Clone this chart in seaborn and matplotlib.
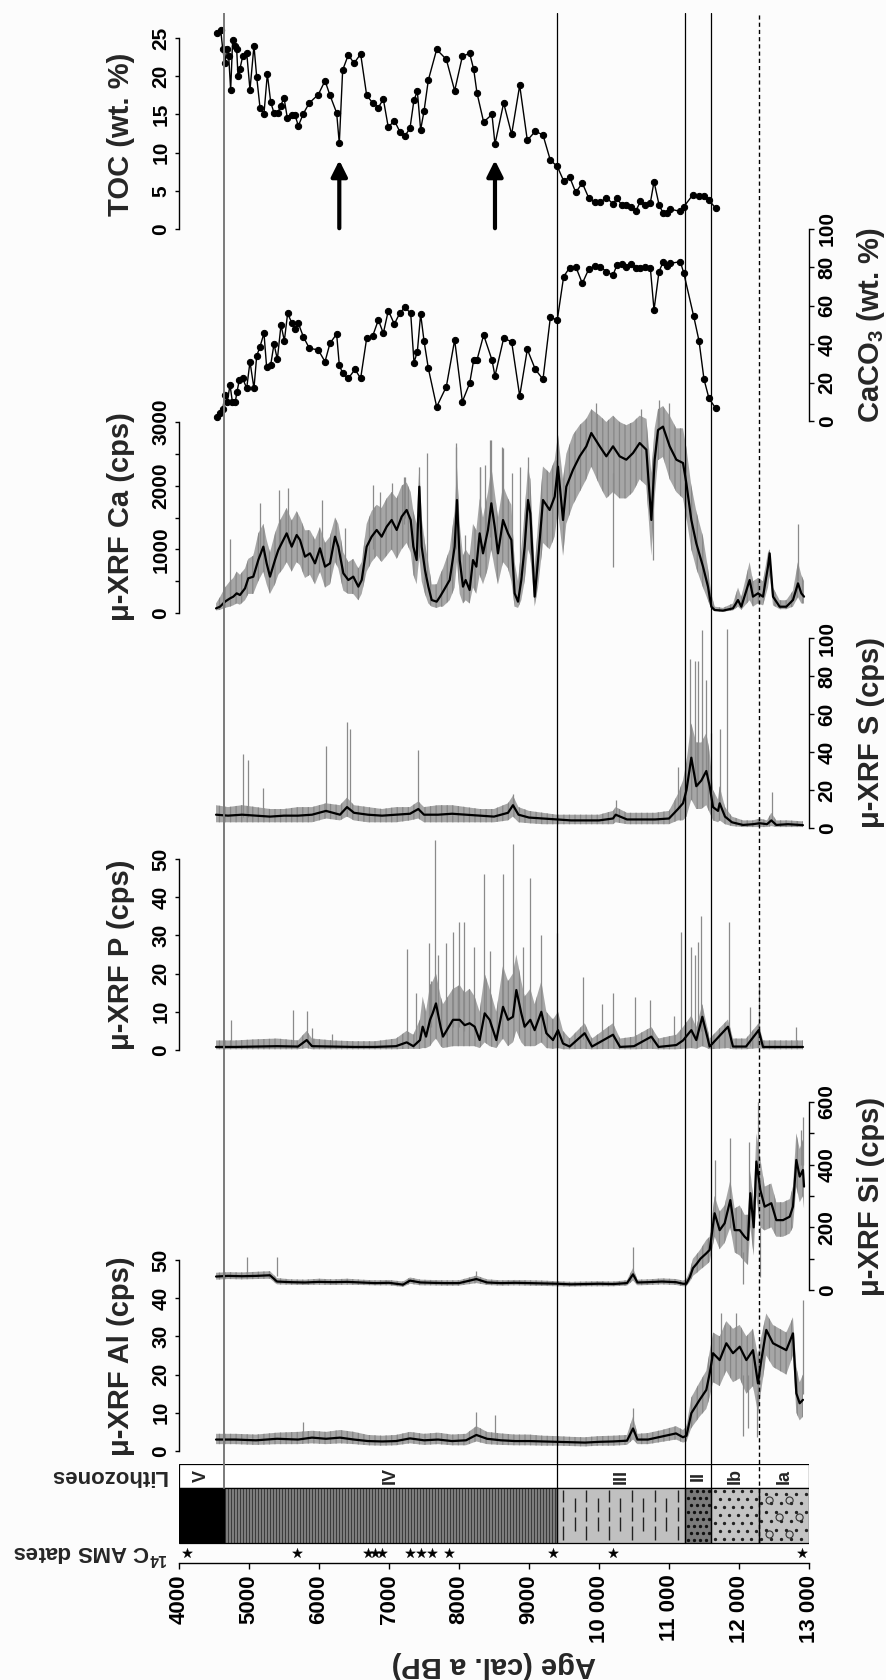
import numpy as np
import pandas as pd
import matplotlib
matplotlib.use("Agg")
import matplotlib.pyplot as plt
import seaborn as sns
from matplotlib.patches import Rectangle

# ---------------- data ----------------
TOC_AGE = [4548,4595,4624,4657,4681,4710,4738,4767,4800,4824,4843,4871,4910,4967,5014,5071,5110,5157,5214,5262,
           5310,5357,5410,5452,5500,5548,5610,5657,5705,5776,5862,5990,6086,6157,6252,6290,6338,6419,6500,6595,
           6681,6767,6848,6919,6990,7076,7157,7229,7300,7357,7405,7452,7500,7562,7681,7819,7938,8048,8152,8210,
           8257,8352,8471,8514,8638,8752,8867,8976,9090,9200,9305,9404,9495,9581,9667,9762,9852,9938,10019,10105,
           10200,10257,10329,10390,10462,10524,10590,10652,10733,10786,10857,10914,10971,11019,11162,11210,11343,11429,11495,11571,
           11667]
TOC_VAL = [25.6,26.1,23.6,21.7,23.6,22.6,18.2,24.8,23.9,23.5,20.0,21.0,22.6,23.1,18.2,24.0,19.9,15.9,15.1,20.3,
           16.6,15.2,15.2,16.1,17.2,14.5,14.9,14.9,13.5,15.1,16.5,17.6,19.4,17.5,15.2,11.2,20.8,22.8,21.7,22.9,
           17.5,16.5,15.9,17.0,13.3,14.2,12.7,12.2,13.2,16.9,18.0,13.0,15.4,19.5,23.5,22.2,18.1,22.6,23.0,20.9,
           17.8,14.0,15.0,11.1,16.5,12.4,18.8,11.6,12.8,12.3,9.0,8.2,6.3,6.8,4.8,6.0,4.1,3.5,3.5,4.1,
           3.3,4.0,3.1,3.2,2.9,2.3,3.6,3.2,3.4,6.2,3.2,2.1,2.1,2.6,2.3,2.9,4.5,4.3,4.3,3.8,
           2.7]

CACO3_AGE = [4548,4586,4624,4657,4690,4729,4762,4805,4829,4862,4910,4967,5014,5071,5110,5157,5214,5252,5310,5357,
             5405,5457,5505,5552,5610,5657,5705,5776,5862,5990,6086,6157,6252,6290,6338,6419,6514,6595,6681,6767,
             6848,6919,6990,7076,7157,7229,7310,7357,7405,7452,7500,7562,7681,7819,7938,8048,8152,8210,8257,8352,
             8471,8514,8638,8752,8867,8976,9090,9200,9305,9404,9495,9581,9667,9762,9852,9938,10019,10105,10200,10257,
             10329,10390,10462,10524,10590,10652,10733,10786,10857,10914,10971,11019,11162,11210,11352,11429,11500,11571,11667]
CACO3_VAL = [2,4.0,6.1,13.5,10.1,18.8,10.1,10.1,15.3,21.4,22.2,17.0,30.9,17.0,33.9,38.7,45.7,28.0,29.2,40.1,
             32.1,50.0,41.8,56.1,51.2,47.8,50.9,43.9,37.9,37.0,30.9,40.5,45.3,29.2,24.8,22.2,26.9,22.2,43.1,44.3,
             52.6,45.7,57.5,50.5,56.4,59.2,56.1,30.4,36.1,55.7,41.8,27.4,7.4,17.9,42.2,10.1,19.6,31.8,31.8,44.8,
             31.8,23.4,43.1,41.3,13.0,37.3,26.9,21.7,54.0,52.6,75.2,79.9,80.4,71.7,79.0,80.7,80.4,77.8,76.0,81.3,
             81.6,80.4,81.6,79.9,79.5,80.4,79.9,57.8,77.8,82.6,80.7,82.1,83.0,77.2,54.7,41.7,21.7,11.8,6.6]

CA_AGE = [4529,4586,4657,4729,4776,4824,4871,4943,4990,5062,5133,5205,5252,5300,5371,5419,5490,5538,5610,5681,
          5729,5800,5871,5943,6014,6086,6157,6229,6276,6348,6419,6490,6562,6610,6681,6752,6824,6895,6967,7038,
          7110,7181,7252,7310,7348,7395,7433,7467,7514,7562,7610,7681,7729,7771,7867,7938,7971,8010,8057,8095,
          8152,8200,8248,8295,8343,8414,8462,8510,8557,8629,8700,8748,8795,8843,8890,8938,8986,9019,9081,9129,
          9200,9295,9367,9414,9486,9533,9629,9724,9819,9890,10010,10105,10200,10295,10390,10486,10581,10676,10748,10795,
          10843,10914,11010,11105,11200,11248,11319,11390,11486,11557,11605,11652,11771,11914,11986,12033,12152,12200,12271,12343,
          12414,12438,12486,12581,12676,12771,12843,12890,12929]
CA_MEAN = [73,99,178,230,257,309,283,387,545,571,832,1042,780,571,832,990,1147,1251,1042,1225,
           1147,885,937,780,1016,728,780,1199,1042,623,518,571,414,518,1042,1199,1304,1199,1356,1461,
           1304,1513,1618,1461,1042,832,1984,1042,675,414,204,178,257,335,518,1042,1775,832,414,518,
           361,832,728,1251,937,1304,1723,1356,937,1461,1251,1147,309,178,518,1042,1775,1565,257,832,
           1775,1618,1827,2298,1461,1984,2251,2461,2618,2827,2618,2461,2618,2461,2408,2513,2670,2565,1461,2403,
           2874,2927,2618,2408,2356,2037,1461,1094,728,414,99,47,37,73,204,99,518,257,309,257,
           728,937,257,99,99,204,466,309,257]
CA_LO = [40,50,80,100,120,150,130,200,300,300,500,650,450,300,450,600,700,800,650,800,
         750,550,600,450,650,400,450,800,700,350,300,300,200,300,650,800,900,800,900,1000,
         850,1000,1100,950,600,450,900,500,300,150,100,80,100,100,200,400,800,300,150,200,
         150,400,300,600,450,700,1000,700,450,800,700,500,100,80,200,500,1000,900,100,400,
         1100,1000,1200,1600,900,1400,1700,1900,2100,2300,2000,1800,1900,1800,1800,1900,2100,2000,900,1800,
         2400,2450,2100,1900,1800,1500,1000,700,400,200,60,30,20,40,100,50,200,100,150,120,
         400,600,120,60,60,100,250,150,150]
CA_HI = [150,250,400,500,550,650,600,700,850,900,1250,1400,1150,950,1250,1400,1550,1650,1450,1600,
         1500,1300,1300,1150,1350,1100,1200,1500,1400,950,800,850,700,800,1400,1600,1700,1650,1800,1900,
         1800,2000,2050,1900,1600,1400,2300,1500,1100,800,450,450,600,700,1000,1600,2300,1400,900,1000,
         900,1400,1300,1800,1500,1900,2300,1900,1500,2000,1800,1700,800,500,1000,1600,2300,2100,700,1400,
         2300,2200,2400,2800,2100,2500,2800,2950,3050,3200,3100,3000,3100,3000,2950,3000,3100,3050,2200,2900,
         3200,3250,3100,2900,2900,2600,2000,1600,1200,700,300,100,80,150,400,250,800,500,550,500,
         950,1000,400,200,200,350,800,600,500]
CA_SPK_AGE = [4729,5157,5433,5562,6038,6371,6776,6871,7038,7214,7229,7433,7548,7957,7962,8086,8300,8305,8371,8443,
              8462,8614,8633,8757,8871,8986,9390,9950,10200,10600,10770,10850,11000,12843]
CA_SPK_BASE = [300,900,1000,1100,900,600,1000,1200,1400,1400,1500,1500,600,1000,1500,500,900,1300,900,1200,
               1700,1100,1500,1000,600,1700,2100,2800,2200,2700,2000,2900,2700,500]
CA_SPK_TOP = [1170,1720,1930,1960,1775,1335,2010,1905,2040,2136,2140,2300,2510,2670,2610,1225,2293,2300,2324,2717,
              2715,2607,2585,2199,2293,2455,2400,3300,730,3200,830,3350,3300,1400]

S_AGE = [4529,4700,4900,5100,5300,5500,5700,5900,6100,6300,6400,6500,6700,6900,7100,7300,7419,7500,7700,7900,
         8100,8300,8500,8700,8771,8850,9000,9200,9400,9600,9800,10000,10200,10238,10400,10600,10800,11000,11129,11200,
         11250,11319,11390,11462,11533,11581,11629,11700,11724,11800,11900,12057,12200,12295,12400,12462,12533,12700,12914]
S_MEAN = [7,6.5,7,6.5,6,6.5,6.5,7,9,7,11,8,7,6.5,7,7.5,10,7,7,7.5,
          7,6.5,6,8,12,7,5.5,5,4.5,4,4,4,5,7,4.5,4.5,4.5,5,10,13,
          20,37,22,25,30,22,11,9,13,6,3,1.6,2,2.5,2,4,1.6,2,1.5]
S_LO = [3,3,3,3,3,3,3,3,5,4,6,4,3,3,3,4,5,3,3,3,
        3,3,3,4,6,3,2.5,2,2,2,2,2,2,3,2,2,2,2,4,4,
        6,15,10,10,12,8,4,3,4,2,1,0.5,0.5,0.5,0.5,1,0.5,0.5,0.5]
S_HI = [12,11,12,11,10,10,11,11,13,12,16,12,11,10,11,11,14,11,12,12,
        11,10,10,13,17,11,9,8,7,7,7,7,9,11,8,8,8,9,18,25,
        35,55,45,45,50,40,20,15,22,11,6,4,4,5,4,8,4,4,3.5]
S_SPK_AGE = [4910,4990,5195,6100,6395,6443,7419,8771,10238,11129,11295,11376,11414,11476,11533,11605,11724,11833,12476]
S_SPK_BASE = [6,6,6,8,10,10,10,12,6,10,30,22,22,25,30,20,12,5,4]
S_SPK_TOP = [39,36,21,43,56,52,41,18,15,32,89,88,88,104,78,50,52,105,19]

P_AGE = [4529,4800,5100,5400,5700,5824,5900,6200,6500,6800,7100,7252,7348,7443,7481,7529,7586,7624,7671,7705,
         7738,7771,7914,8010,8081,8152,8224,8295,8367,8438,8533,8629,8700,8771,8819,8890,8938,9019,9081,9176,
         9248,9343,9414,9486,9581,9795,9900,10200,10300,10500,10748,10850,11105,11200,11319,11390,11476,11581,11843,11914,
         12100,12281,12343,12600,12914]
P_MEAN = [0.8,0.8,0.9,1.0,0.9,2.6,1.0,0.9,0.8,0.8,1.0,2.0,1.0,2.6,6.1,3.5,7.9,9.6,12.2,9.0,
          6.0,3.5,7.9,7.9,6.5,7.0,6.1,2.6,9.6,7.9,2.6,11.3,7.9,8.7,15.7,9.6,6.1,7.9,5.2,10.0,
          4.4,2.6,5.2,1.7,0.9,4.4,0.9,4.0,0.8,1.0,3.5,0.8,1.3,2.5,5.2,2.6,8.7,0.9,6.1,0.9,
          0.9,5.2,0.8,0.8,0.8]
P_LO = [0.2,0.2,0.2,0.2,0.2,0.5,0.2,0.2,0.2,0.2,0.2,0.3,0.3,0.3,0.5,0.5,1,2,3,2,
        1,0.5,1,1,1,1,1,0.5,2,1,0.5,3,1,2,5,2,1,1,1,2,
        0.5,0.3,0.5,0.2,0.2,0.3,0.2,0.3,0.2,0.2,0.3,0.2,0.2,0.3,0.5,0.3,1,0.2,0.5,0.2,
        0.2,0.5,0.2,0.2,0.2]
P_HI = [2.5,2.5,2.8,3,2.5,5,3,2.5,2.3,2.3,3,5,4,8,14,10,17,18,20,17,
        14,12,16,17,15,16,14,10,20,16,10,22,18,20,25,18,14,16,12,18,
        10,8,10,5,3,7,3,7,3,3.5,6,3,4,6,9,6,12,3,8,3,
        3,7,2.5,2.5,2.5]
P_SPK_AGE = [4748,5624,5824,5895,6181,7262,7386,7571,7600,7657,7700,7819,7914,8000,8067,8210,8352,8438,8629,8771,
             8914,9019,9176,9405,9771,10043,10200,10510,10733,11067,11167,11310,11367,11414,11462,11862,12157,12281,12819]
P_SPK_BASE = [1,1,2,1,1,2,2,6,6,10,8,4,6,6,5,5,8,6,10,8,
              6,6,8,4,3,1,3,1,2,1,2,4,3,3,5,5,1,4,1]
P_SPK_TOP = [7.9,10.6,10.2,5.7,4.2,26.4,15,28,18,55,25,28,31,33.6,33.6,27,46,26,46,54,
             27,45,30,30.5,19,12,15,14,13,9,31,27,25,28.4,35,33.6,11.3,17.5,6]

SI_AGE = [4529,4700,4900,5100,5300,5400,5600,5800,6000,6200,6400,6600,6800,7000,7200,7300,7450,7600,7800,8000,
          8248,8400,8600,8800,9000,9200,9400,9600,9800,10000,10200,10400,10486,10550,10700,10900,11100,11200,11248,11295,
          11343,11400,11450,11533,11581,11652,11724,11795,11876,11938,12010,12081,12129,12162,12210,12248,12305,12367,12462,12533,
          12629,12724,12771,12819,12867,12914,12929]
SI_MEAN = [43,45,44,45,47,27,25,24,26,25,26,24,22,23,17,30,24,23,22,22,
           35,24,22,23,22,21,20,18,19,20,19,22,50,24,25,27,25,20,20,40,
           70,85,100,117,128,245,191,213,287,191,191,170,160,309,200,410,319,266,277,223,
           223,234,266,415,362,383,330]
SI_LO = [33,35,34,35,36,18,17,16,17,16,17,16,15,15,10,20,15,15,14,14,
         22,16,14,15,14,13,12,11,12,12,12,14,30,15,16,18,16,12,12,25,
         45,55,65,80,90,170,130,150,200,120,110,90,80,200,110,300,200,190,200,170,
         170,180,200,330,280,300,260]
SI_HI = [55,57,56,58,60,38,34,33,36,34,36,33,31,32,27,40,33,32,31,31,
         46,34,31,32,31,30,28,26,27,28,27,31,70,33,34,37,35,30,35,60,
         100,115,130,160,170,300,250,270,350,260,270,240,240,380,280,500,420,330,340,280,
         280,290,330,500,450,480,420]
SI_SPK_AGE = [4967,5395,8248,10486,11652,11876,12050,12143,12271,12300,12881,12914]
SI_SPK_BASE = [50,45,30,40,250,280,120,200,350,200,400,400]
SI_SPK_TOP = [105,105,60,138,415,484,20,473,600,40,510,553]

AL_AGE = [4529,4800,5100,5400,5700,5900,6100,6300,6500,6700,6900,7100,7300,7500,7700,7900,8100,8248,8400,8600,
          8800,9000,9200,9400,9600,9800,10000,10200,10400,10486,10550,10700,10900,11100,11200,11250,11319,11438,11533,11581,
          11629,11724,11819,11914,12010,12105,12200,12271,12319,12390,12486,12581,12676,12771,12819,12867,12914]
AL_MEAN = [3.0,3.0,2.8,3.2,3.0,3.5,3.2,3.5,3.0,2.6,2.5,2.6,3.3,2.8,3.0,2.6,2.8,4.2,3.2,2.8,
           2.6,2.6,2.5,2.4,2.3,2.2,2.4,2.5,2.7,5.9,3.0,3.0,3.8,4.6,3.6,4.0,9.9,13.4,16,20.3,
           25.6,23.8,28.2,25.6,27.3,23.8,26.4,17.7,23.8,31.7,28.2,27.3,26.4,30.8,15.1,12.5,13.4]
AL_LO = [1.8,1.8,1.6,1.8,1.8,2.0,1.8,2.0,1.8,1.5,1.4,1.5,2.0,1.6,1.8,1.5,1.5,2.5,1.8,1.6,
         1.5,1.5,1.4,1.4,1.3,1.2,1.4,1.4,1.6,3.0,1.8,1.8,2.4,3.0,2.2,2.5,6,9,11,14,
         18,17,21,18,19,15,17,10,16,25,22,21,20,25,10,8,9]
AL_HI = [4.5,4.5,4.3,4.8,5.0,5.3,5.0,5.5,5.0,4.2,4.0,4.2,5.0,4.5,4.8,4.3,4.5,6.5,5.0,4.6,
         4.3,4.3,4.0,3.9,3.7,3.6,3.9,4.0,4.2,9.0,4.5,4.7,5.5,6.5,5.5,6.5,14,18,21,26,
         31,30,34,32,33,30,32,25,30,36,33,32,31,35,22,18,20]
AL_SPK_AGE = [5776,8248,8510,10486,11748,11962,12057,12129,12250,12914]
AL_SPK_BASE = [3,4,3,5,25,25,20,20,15,15]
AL_SPK_TOP = [7.7,10.3,9.5,11.2,36,36,4,6,3.7,39.5]

AMS_AGES = [4110,5681,6705,6800,6895,7300,7452,7610,7850,9343,10200,12900]
ZONE_EDGES = [4000,4640,9400,11230,11600,12280,13000]
ZONE_NAMES = ["V","IV","III","II","Ib","Ia"]
ARROW_AGES = [6290,8514]
AGE_TICKS = [4000,5000,6000,7000,8000,9000,10000,11000,12000,13000]
AGE_TICK_LABELS = ["4000","5000","6000","7000","8000","9000","10 000","11 000","12 000","13 000"]

# ---------------- style ----------------
sns.set_style("white")
plt.rcParams['font.family'] = ['Liberation Sans', 'DejaVu Sans']
plt.rcParams['font.weight'] = 'bold'
plt.rcParams['mathtext.fontset'] = 'custom'
plt.rcParams['mathtext.rm'] = 'Liberation Sans:bold'
plt.rcParams['mathtext.bf'] = 'Liberation Sans:bold'
plt.rcParams['mathtext.default'] = 'bf'
plt.rcParams['hatch.linewidth'] = 0.9

W, H = 886, 1680
fig = plt.figure(figsize=(W / 100, H / 100), dpi=100)
BG = '#fcfcfc'
fig.patch.set_facecolor(BG)
X0, X1 = 179, 809
AMIN, AMAX = 4000, 13000
PT = 0.72  # points per pixel at 100 dpi
YR_PER_PX = (AMAX - AMIN) / (X1 - X0)


def fx(x):
    return x / W


def fy(y):
    return 1 - y / H


def panel(y_top, y_zero, vmax, side, ticks, labels):
    ax = fig.add_axes([fx(X0), fy(y_zero), (X1 - X0) / W, (y_zero - y_top) / H])
    ax.set_xlim(AMIN, AMAX)
    ax.set_ylim(0, vmax)
    ax.patch.set_alpha(0)
    for s in ['top', 'bottom', 'left', 'right']:
        ax.spines[s].set_visible(s == side)
    ax.spines[side].set_linewidth(1.0)
    ax.spines[side].set_color('black')
    ax.xaxis.set_visible(False)
    if side == 'right':
        ax.yaxis.tick_right()
    else:
        ax.yaxis.tick_left()
    ax.set_yticks(ticks)
    ax.set_yticklabels(labels)
    ax.tick_params(axis='y', direction='out', length=4.5 * PT, width=1.0, pad=3,
                   labelsize=15, colors='black')
    for t in ax.get_yticklabels():
        t.set_rotation(90)
        t.set_va('center')
        t.set_fontweight('bold')
    ax.grid(False)
    return ax


def xrf(ax, age, mean, lo, hi, sa, sb, st):
    # raw-signal envelope: medium-gray fill with fine vertical texture
    ax.fill_between(age, lo, hi, facecolor='#a6a6a6', edgecolor='#868686', hatch='|||',
                    lw=0, clip_on=False, zorder=1)
    ax.vlines(sa, sb, st, color='#8a8a8a', lw=0.9, clip_on=False, zorder=1.5)
    sns.lineplot(x=age, y=mean, ax=ax, color='black', lw=1.6, estimator=None,
                 sort=False, clip_on=False, zorder=3)
    ax.set_xlabel('')
    ax.set_ylabel('')
    ax.set_xlim(AMIN, AMAX)


def dotted_series(ax, age, val):
    sns.lineplot(x=age, y=val, ax=ax, color='black', lw=1.0, marker='o', markersize=4.5,
                 markeredgecolor='black', markerfacecolor='black', estimator=None,
                 sort=False, clip_on=False, zorder=3)
    ax.set_xlabel('')
    ax.set_ylabel('')
    ax.set_xlim(AMIN, AMAX)


# TOC
ax_toc = panel(38, 229, 25, 'left', [0, 5, 10, 15, 20, 25], ['0', '5', '10', '15', '20', '25'])
dotted_series(ax_toc, TOC_AGE, TOC_VAL)
for a in ARROW_AGES:
    ax_toc.annotate('', xy=(a, 9.0), xytext=(a, 0.1),
                    arrowprops=dict(arrowstyle='-|>', color='black', lw=3, mutation_scale=24,
                                    shrinkA=0, shrinkB=0))

# CaCO3
ax_cc = panel(229, 421, 100, 'right', [0, 20, 40, 60, 80, 100], ['0', '20', '40', '60', '80', '100'])
dotted_series(ax_cc, CACO3_AGE, CACO3_VAL)

# Ca
ax_ca = panel(422, 613, 3000, 'left', [0, 500, 1000, 1500, 2000, 2500, 3000],
              ['0', '', '1000', '', '2000', '', '3000'])
xrf(ax_ca, CA_AGE, CA_MEAN, CA_LO, CA_HI, CA_SPK_AGE, CA_SPK_BASE, CA_SPK_TOP)

# S
ax_s = panel(638, 828, 100, 'right', [0, 20, 40, 60, 80, 100], ['0', '20', '40', '60', '80', '100'])
xrf(ax_s, S_AGE, S_MEAN, S_LO, S_HI, S_SPK_AGE, S_SPK_BASE, S_SPK_TOP)

# P
ax_p = panel(859, 1050, 50, 'left', [0, 10, 20, 30, 40, 50], ['0', '10', '20', '30', '40', '50'])
xrf(ax_p, P_AGE, P_MEAN, P_LO, P_HI, P_SPK_AGE, P_SPK_BASE, P_SPK_TOP)

# Si
ax_si = panel(1102, 1290, 600, 'right', [0, 100, 200, 300, 400, 500, 600],
              ['0', '', '200', '', '400', '', '600'])
xrf(ax_si, SI_AGE, SI_MEAN, SI_LO, SI_HI, SI_SPK_AGE, SI_SPK_BASE, SI_SPK_TOP)

# Al
ax_al = panel(1260, 1451, 50, 'left', [0, 10, 20, 30, 40, 50], ['0', '10', '20', '30', '40', '50'])
xrf(ax_al, AL_AGE, AL_MEAN, AL_LO, AL_HI, AL_SPK_AGE, AL_SPK_BASE, AL_SPK_TOP)

# ---------------- lithozones + age axis ----------------
Y_AX, Y_TOP = 1563, 1464
axl = fig.add_axes([fx(X0), fy(Y_AX), (X1 - X0) / W, (Y_AX - Y_TOP) / H])
axl.set_xlim(AMIN, AMAX)
axl.set_ylim(0, Y_AX - Y_TOP)
axl.patch.set_alpha(0)
for s in ['top', 'left', 'right']:
    axl.spines[s].set_visible(False)
axl.spines['bottom'].set_linewidth(1.0)
axl.spines['bottom'].set_color('black')
axl.set_yticks([])
axl.set_xticks(AGE_TICKS)
axl.set_xticklabels(AGE_TICK_LABELS)
axl.tick_params(axis='x', direction='out', length=6 * PT, width=1.0, pad=4, labelsize=16,
                colors='black', bottom=True)
for t in axl.get_xticklabels():
    t.set_rotation(90)
    t.set_va('top')
    t.set_ha('center')
    t.set_fontweight('bold')

PAT_B, PAT_T, LAB_T = Y_AX - 1543, Y_AX - 1488, Y_AX - 1464   # 20, 75, 99
faces = ['#000000', '#8e8e8e', '#c0c0c0', '#7b7b7b', '#c4c4c4', '#c4c4c4']
for i in range(6):
    a0, a1 = ZONE_EDGES[i], ZONE_EDGES[i + 1]
    axl.add_patch(Rectangle((a0, PAT_B), a1 - a0, PAT_T - PAT_B, facecolor=faces[i],
                            edgecolor='none', lw=0, zorder=1))
    axl.add_patch(Rectangle((a0, PAT_B), a1 - a0, PAT_T - PAT_B, facecolor='none',
                            edgecolor='black', lw=0.9, zorder=4))
    axl.text((a0 + a1) / 2, (PAT_T + LAB_T) / 2, ZONE_NAMES[i], rotation=90, ha='center',
             va='center', fontsize=13, fontweight='bold', zorder=5)

# zone IV: dense dark vertical stripes
a0, a1 = ZONE_EDGES[1], ZONE_EDGES[2]
stripes = np.arange(a0 + 1.5 * YR_PER_PX, a1, 3.0 * YR_PER_PX)
axl.vlines(stripes, PAT_B, PAT_T, color='#3c3c3c', lw=1.0, zorder=2)

# zone III: staggered vertical dashes
a0, a1 = ZONE_EDGES[2], ZONE_EDGES[3]
cols = np.arange(a0 + 6 * YR_PER_PX, a1 - 3 * YR_PER_PX, 11.5 * YR_PER_PX)
for k, c in enumerate(cols):
    offs = [3, 22, 41] if k % 2 == 0 else [12, 31]
    for o in offs:
        axl.vlines(c, PAT_B + o, min(PAT_B + o + 14, PAT_T - 2), color='#222222', lw=1.0, zorder=2)


def dot_field(a0, a1, dx, dy, size, color, face=None, shift=0.5, start=0.4):
    xs, ys = [], []
    rows = np.arange(PAT_B + dy * 0.5, PAT_T - 1, dy)
    for r, yv in enumerate(rows):
        off = (shift * dx if r % 2 else 0) + dx * start
        for xv in np.arange(a0 + off * YR_PER_PX, a1 - 2 * YR_PER_PX, dx * YR_PER_PX):
            xs.append(xv)
            ys.append(yv)
    axl.scatter(xs, ys, s=size, marker='o', facecolors=face if face else color,
                edgecolors=color, linewidths=0.8, zorder=2)


# zone II: dark gray with dots
dot_field(ZONE_EDGES[3], ZONE_EDGES[4], 6, 7, 2.5, '#111111')
# zone Ib: sparse dots
dot_field(ZONE_EDGES[4], ZONE_EDGES[5], 9, 8, 2.5, '#222222', shift=0.55)
# zone Ia: dots and small open circles
dot_field(ZONE_EDGES[5], ZONE_EDGES[6], 10, 9, 2.5, '#222222', shift=0.5, start=0.2)
dot_field(ZONE_EDGES[5], ZONE_EDGES[6], 20, 17, 26, '#333333', face='none', shift=0.5, start=0.55)

# label row
axl.add_patch(Rectangle((AMIN, PAT_T), AMAX - AMIN, LAB_T - PAT_T, facecolor='white',
                        edgecolor='black', lw=0.9, zorder=0.5))

# AMS dates
sns.scatterplot(x=AMS_AGES, y=[10] * len(AMS_AGES), ax=axl, marker='*', s=55, color='black',
                edgecolor='black', linewidth=0.3, clip_on=False, zorder=5, legend=False)
axl.set_xlabel('')
axl.set_ylabel('')
axl.set_xlim(AMIN, AMAX)

# ---------------- zone boundary lines ----------------
L_TOP, L_BOT = 13, 1543
axo = fig.add_axes([fx(X0), fy(L_BOT), (X1 - X0) / W, (L_BOT - L_TOP) / H])
axo.set_xlim(AMIN, AMAX)
axo.set_ylim(0, 1)
axo.axis('off')
frac = (L_BOT - 1488) / (L_BOT - L_TOP)
axo.axvline(ZONE_EDGES[1], frac, 1, color='#7a7a7a', lw=1.4)
for e in ZONE_EDGES[2:5]:
    axo.axvline(e, frac, 1, color='black', lw=0.9)
axo.axvline(ZONE_EDGES[5], 0, 1, color='black', lw=1.0, ls=(0, (3, 2.2)))

# ---------------- texts ----------------
LAB_FS = 21
for txt, x, y in [('TOC (wt. %)', 121, 134), ('μ-XRF Ca (cps)', 121, 517),
                  ('μ-XRF P (cps)', 121, 955), ('μ-XRF Al (cps)', 121, 1356),
                  ('CaCO$_{3}$ (wt. %)', 871, 325), ('μ-XRF S (cps)', 871, 733),
                  ('μ-XRF Si (cps)', 871, 1196)]:
    fig.text(fx(x), fy(y), txt, rotation=90, ha='center', va='center', fontsize=LAB_FS,
             fontweight='bold')

fig.text(fx(494), fy(1665), 'Age (cal. a BP)', rotation=180, ha='center', va='center',
         fontsize=LAB_FS, fontweight='bold')
fig.text(fx(108), fy(1476), 'Lithozones', rotation=180, ha='center', va='center',
         fontsize=16, fontweight='bold')
fig.text(fx(90), fy(1553), r'$^{14}$C AMS dates', rotation=180, ha='center', va='center',
         fontsize=16, fontweight='bold')

fig.savefig('out.png', dpi=100, facecolor=BG)
